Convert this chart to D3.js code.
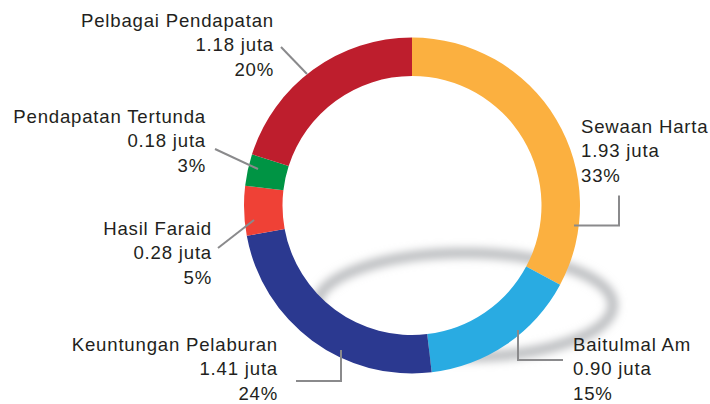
<!DOCTYPE html>
<html>
<head>
<meta charset="utf-8">
<script src="https://cdn.jsdelivr.net/npm/d3@7"></script>
<style>
  body { margin: 0; background: #fff; }
  svg { display: block; }
  text { font-family: "Liberation Sans", Arial, Helvetica, sans-serif; font-size: 18.6px; letter-spacing: 0.8px; fill: #231f20; }
</style>
</head>
<body>
<script>
// data
var categories = ["Sewaan Harta", "Baitulmal Am", "Keuntungan Pelaburan", "Hasil Faraid", "Pendapatan Tertunda", "Pelbagai Pendapatan"];
var values = [1.93, 0.90, 1.41, 0.28, 0.18, 1.18];
var valueLabels = ["1.93 juta", "0.90 juta", "1.41 juta", "0.28 juta", "0.18 juta", "1.18 juta"];
var percentLabels = ["33%", "15%", "24%", "5%", "3%", "20%"];
var colors = ["#fbb040", "#29abe2", "#2b3990", "#ef4136", "#009444", "#be1e2d"];

var width = 710, height = 404;
var cx = 412, cy = 205.5, outerR = 168, innerR = 129.5;

// label layout: text anchor point + leader line (relative to centre)
var labelLayout = [
  { x: 581, y: 133, anchor: "start", leader: [[207, -10], [207, 20], [162, 20]] },
  { x: 573, y: 351, anchor: "start", leader: [[151, 154.5], [106, 154.5], [106, 124.5]] },
  { x: 278, y: 351, anchor: "end", leader: [[-116, 175.5], [-71, 175.5], [-71, 144.5]] },
  { x: 212, y: 235, anchor: "end", leader: [[-194, 42.5], [-158, 14.5]] },
  { x: 206, y: 123, anchor: "end", leader: [[-197, -56.5], [-154, -36.5]] },
  { x: 274, y: 27, anchor: "end", leader: [[-131, -158.5], [-105, -131.5]] }
];

var svg = d3.select("body").append("svg")
  .attr("width", width)
  .attr("height", height);

var defs = svg.append("defs");
defs.append("filter").attr("id", "blur")
  .attr("x", "-20%").attr("y", "-50%").attr("width", "140%").attr("height", "200%")
  .append("feGaussianBlur").attr("stdDeviation", 4);

var g = svg.append("g").attr("transform", "translate(" + cx + "," + cy + ")");

// soft grey shadow ring
g.append("ellipse")
  .attr("cx", 53).attr("cy", 99.5)
  .attr("rx", 148).attr("ry", 52)
  .style("fill", "none")
  .style("stroke", "#b9bbbe")
  .style("stroke-width", 10)
  .attr("filter", "url(#blur)");

var pie = d3.pie().sort(null).value(function (d) { return d; });
var arc = d3.arc().innerRadius(innerR).outerRadius(outerR);

g.selectAll("path.slice")
  .data(pie(values))
  .enter().append("path")
  .attr("class", "slice")
  .attr("d", arc)
  .style("fill", function (d, i) { return colors[i]; });

// leader lines
var line = d3.line();
g.selectAll("path.leader")
  .data(labelLayout)
  .enter().append("path")
  .attr("class", "leader")
  .attr("d", function (d) { return line(d.leader); })
  .style("fill", "none")
  .style("stroke", "#8a8a8c")
  .style("stroke-width", 2);

// labels
var labels = svg.selectAll("text.label")
  .data(categories)
  .enter().append("text")
  .attr("class", "label")
  .attr("text-anchor", function (d, i) { return labelLayout[i].anchor; })
  .attr("x", function (d, i) { return labelLayout[i].x; })
  .attr("y", function (d, i) { return labelLayout[i].y; });

labels.each(function (d, i) {
  var t = d3.select(this);
  var x = labelLayout[i].x;
  [d, valueLabels[i], percentLabels[i]].forEach(function (s, k) {
    t.append("tspan").attr("x", x).attr("dy", k === 0 ? 0 : 24.3).text(s);
  });
});
</script>
</body>
</html>
